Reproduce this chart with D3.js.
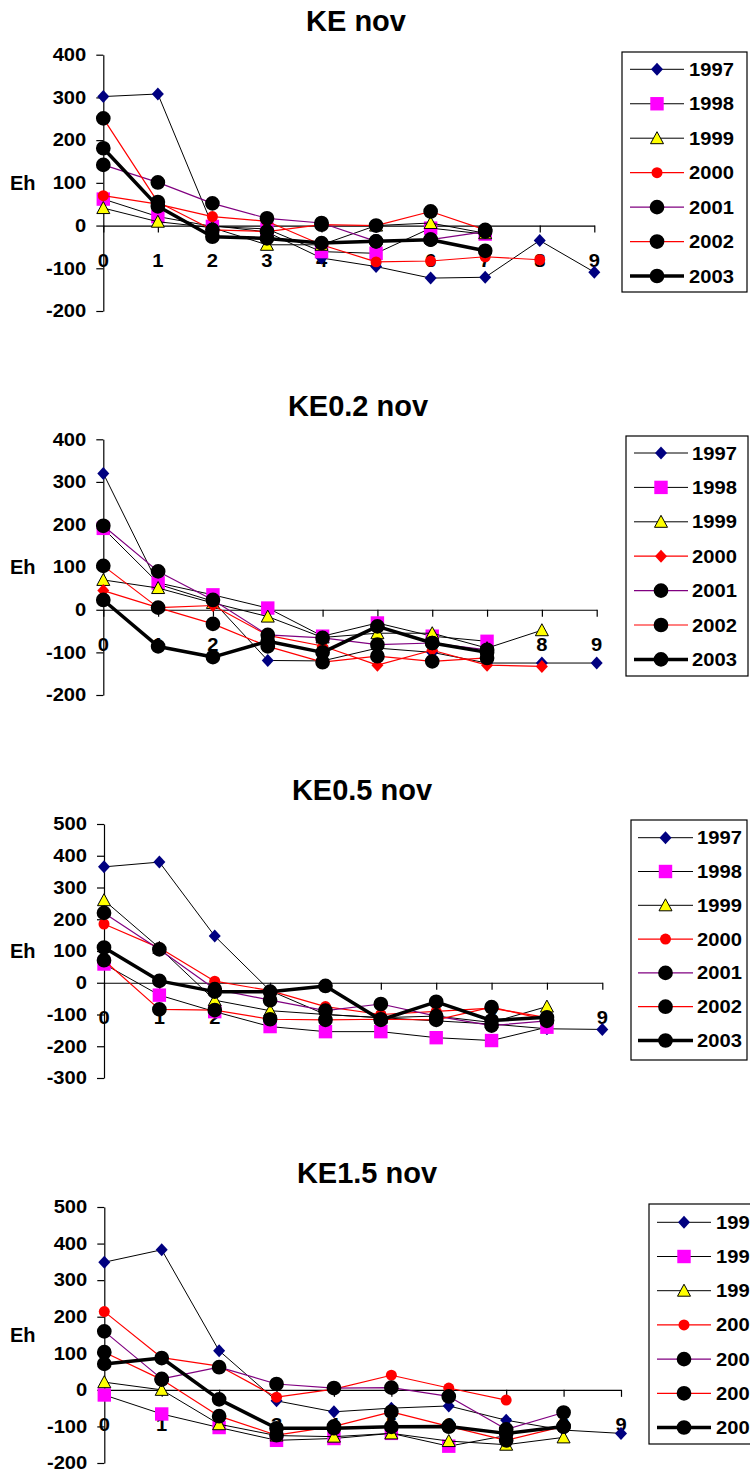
<!DOCTYPE html>
<html>
<head>
<meta charset="utf-8">
<script src="https://cdn.jsdelivr.net/npm/d3@7/dist/d3.min.js"></script>
<style>
    body { margin: 0; background: #fff; }
    text { font-family: "Liberation Sans", Arial, sans-serif; font-weight: bold; fill: #000; }
</style>
</head>
<body>
<svg id="chart" width="750" height="1472"></svg>
<script>
"use strict"

// x categories (sampling step) and series names
const categories = [0, 1, 2, 3, 4, 5, 6, 7, 8, 9]
const years = ["1997", "1998", "1999", "2000", "2001", "2002", "2003"]

// Eh values per year, one array per panel
const keNov = [
    [302, 308, 0, -15, -76, -96, -123, -121, -35, -109],
    [62, 21, -2, -8, -61, -65, -6, -20],
    [41, 9, -5, -45, -45, 0, 6, -18],
    [70, 50, 21, 10, -45, -85, -83, -73, -80],
    [142, 101, 52, 17, 6, -37, -33, -14],
    [251, 55, -10, -14, 2, 0, 33, -10],
    [181, 45, -26, -30, -41, -37, -33, -59]
]
const ke02Nov = [
    [320, 60, 20, -119, -120, -90, -100, -125, -125, -125],
    [191, 63, 35, 4, -62, -31, -62, -74],
    [70, 51, 16, -16, -65, -55, -55, -90, -48],
    [45, 5, 10, -60, -85, -130, -95, -130, -133],
    [197, 90, 23, -59, -66, -82, -78, -94],
    [103, 5, -33, -86, -123, -109, -121, -113],
    [23, -86, -111, -74, -100, -39, -78, -100]
]
const ke05Nov = [
    [365, 380, 147, -25, -100, -110, -120, -130, -145, -147],
    [59, -39, -91, -138, -154, -154, -173, -182, -140],
    [260, 110, -55, -88, -100, -110, -105, -125, -75],
    [185, 110, 5, -25, -75, -100, -90, -80, -110],
    [220, 105, -20, -55, -88, -67, -105, -135, -120],
    [71, -84, -86, -115, -117, -115, -117, -77, -117],
    [111, 6, -28, -28, -10, -117, -60, -119, -109]
]
const ke15Nov = [
    [349, 383, 107, -30, -60, -50, -44, -83, -110, -119],
    [-14, -66, -103, -138, -133, -119, -154, -125],
    [21, 0, -94, -125, -128, -119, -140, -150, -130],
    [214, 88, 65, -20, 2, 40, 5, -28],
    [160, 30, 62, 16, 5, 6, -18, -108, -62],
    [103, 28, -72, -124, -100, -60, -100, -138, -100],
    [71, 87, -26, -105, -105, -101, -100, -119, -100]
]

const titles = ["KE nov", "KE0.2 nov", "KE0.5 nov", "KE1.5 nov"]
const yTicks400 = [-200, -100, 0, 100, 200, 300, 400]
const yTicks500a = [-300, -200, -100, 0, 100, 200, 300, 400, 500]
const yTicks500b = [-200, -100, 0, 100, 200, 300, 400, 500]

// layout of each panel
const panels = [
    { title: titles[0], data: keNov, ticks: yTicks400, xRange: [103.3, 594.3], yRange: [311, 54.7],
      titleX: 356, titleY: 31,
      legend: { x: 622, y: 52, w: 125, h: 240, row0: 69.3, step: 34.45, l0: 630, l1: 684, tx: 689 } },
    { title: titles[1], data: ke02Nov, ticks: yTicks400, xRange: [103.3, 596.7], yRange: [695, 439.3],
      titleX: 358, titleY: 416, diamond2000: true,
      legend: { x: 626, y: 436, w: 122, h: 240, row0: 453, step: 34.4, l0: 634, l1: 688, tx: 692 } },
    { title: titles[2], data: ke05Nov, ticks: yTicks500a, xRange: [104, 602.3], yRange: [1078, 824],
      titleX: 362, titleY: 800,
      legend: { x: 631, y: 820, w: 116, h: 240, row0: 837.7, step: 33.8, l0: 638, l1: 693, tx: 697 } },
    { title: titles[3], data: ke15Nov, ticks: yTicks500b, xRange: [104.3, 621], yRange: [1463, 1207],
      titleX: 367, titleY: 1183,
      legend: { x: 649, y: 1204, w: 120, h: 240, row0: 1222.3, step: 34.2, l0: 657, l1: 711, tx: 716 } }
]

const styles = [
    { stroke: "#000", width: 1, marker: "diamond", fill: "#000080" },
    { stroke: "#000", width: 1, marker: "square", fill: "#ff00ff" },
    { stroke: "#000", width: 1, marker: "triangle", fill: "#ffff00" },
    { stroke: "#ff0000", width: 1.2, marker: "dot", fill: "#ff0000" },
    { stroke: "#800080", width: 1.2, marker: "circle", fill: "#000" },
    { stroke: "#ff0000", width: 1.2, marker: "circle", fill: "#000" },
    { stroke: "#000", width: 3.5, marker: "circle", fill: "#000" }
]

const SX = 1.12 // numbers in the original are a little wider than Arial

const svg = d3.select("#chart")
svg.append("rect").attr("width", 750).attr("height", 1472).attr("fill", "#fff")

function markerPath(type) {
    if (type === "diamond") return "M0,-6.5L6,0L0,6.5L-6,0Z"
    if (type === "triangle") return "M0,-6.5L6.5,5.5L-6.5,5.5Z"
    if (type === "square") return d3.symbol(d3.symbolSquare, 180)()
    if (type === "dot") return d3.symbol(d3.symbolCircle, 95)()
    return d3.symbol(d3.symbolCircle, 170)()
}

function wideText(g, x, y, str, size, anchor) {
    return g.append("text")
        .attr("transform", "translate(" + x + "," + y + ") scale(" + SX + ",1)")
        .attr("text-anchor", anchor)
        .style("font-size", size + "px")
        .text(str)
}

function drawPanel(p) {
    const g = svg.append("g")
    const x = d3.scaleLinear().domain([0, 9]).range(p.xRange)
    const y = d3.scaleLinear().domain([p.ticks[0], p.ticks[p.ticks.length - 1]]).range(p.yRange)

    g.append("text")
        .attr("x", p.titleX).attr("y", p.titleY)
        .attr("text-anchor", "middle")
        .style("font-size", "29px")
        .text(p.title)

    const midY = (p.yRange[0] + p.yRange[1]) / 2
    g.append("text").attr("x", 10).attr("y", midY + 7).style("font-size", "20px").text("Eh")

    // y axis
    const yAxis = d3.axisLeft(y).tickValues(p.ticks).tickSize(7).tickSizeOuter(0).tickFormat("")
    g.append("g")
        .attr("transform", "translate(" + p.xRange[0] + ",0)")
        .call(yAxis)
        .call(a => a.selectAll("path, line").attr("stroke", "#000").attr("stroke-width", 1.2))
    p.ticks.forEach(t => wideText(g, p.xRange[0] - 17, y(t) + 6.3, String(t), 18, "end"))

    // x axis sits on Eh = 0
    const xAxis = d3.axisBottom(x).tickValues(categories).tickSize(7).tickSizeOuter(0).tickFormat("")
    g.append("g")
        .attr("transform", "translate(0," + y(0) + ")")
        .call(xAxis)
        .call(a => a.selectAll("path, line").attr("stroke", "#000").attr("stroke-width", 1.2))
    categories.forEach(c => wideText(g, x(c), y(0) + 41, String(c), 18, "middle"))

    const line = d3.line().x((d, i) => x(categories[i])).y(d => y(d))

    p.data.forEach((values, s) => {
        const st = styles[s]
        const mk = (s === 3 && p.diamond2000) ? "diamond" : st.marker
        g.append("path")
            .attr("d", line(values))
            .attr("fill", "none")
            .attr("stroke", st.stroke)
            .attr("stroke-width", st.width)
            .attr("stroke-linejoin", "round")
        g.selectAll(".m" + s)
            .data(values)
            .enter()
            .append("path")
            .attr("class", "m" + s)
            .attr("d", markerPath(mk))
            .attr("transform", (d, i) => "translate(" + x(categories[i]) + "," + y(d) + ")")
            .attr("fill", st.fill)
            .attr("stroke", mk === "triangle" ? "#000" : "none")
            .attr("stroke-width", 1)
    })

    // legend
    const L = p.legend
    g.append("rect")
        .attr("x", L.x).attr("y", L.y).attr("width", L.w).attr("height", L.h)
        .attr("fill", "#fff").attr("stroke", "#000").attr("stroke-width", 1.2)
    years.forEach((yr, s) => {
        const st = styles[s]
        const mk = (s === 3 && p.diamond2000) ? "diamond" : st.marker
        const ry = L.row0 + s * L.step
        g.append("line")
            .attr("x1", L.l0).attr("x2", L.l1).attr("y1", ry).attr("y2", ry)
            .attr("stroke", st.stroke).attr("stroke-width", st.width)
        g.append("path")
            .attr("d", markerPath(mk))
            .attr("transform", "translate(" + ((L.l0 + L.l1) / 2) + "," + ry + ")")
            .attr("fill", st.fill)
            .attr("stroke", mk === "triangle" ? "#000" : "none")
        wideText(g, L.tx, ry + 6.5, yr, 18, "start")
    })
}

panels.forEach(drawPanel)
</script>
</body>
</html>
